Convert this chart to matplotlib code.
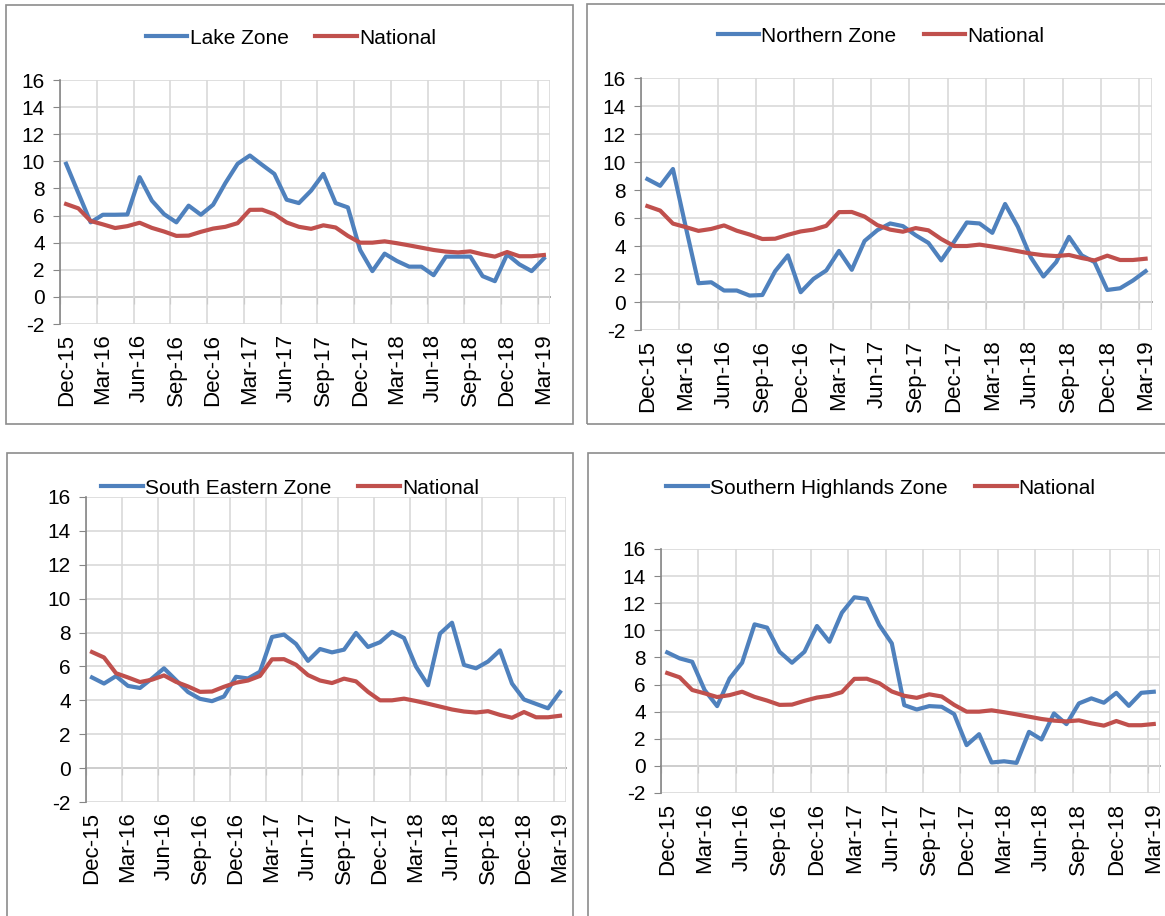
import numpy as np
import pandas as pd
import matplotlib
matplotlib.use("Agg")
import matplotlib.pyplot as plt
from matplotlib.patches import Rectangle
from matplotlib import font_manager

# monthly categories Dec-15 .. Mar-19
months = list(pd.date_range("2015-12-01", periods=40, freq="MS").strftime("%b-%y"))

national = [6.85, 6.53, 5.6, 5.35, 5.08, 5.22, 5.47, 5.09, 4.82, 4.5,
            4.52, 4.8, 5.04, 5.17, 5.44, 6.42, 6.43, 6.1, 5.49, 5.17,
            5.02, 5.28, 5.12, 4.5, 4.0, 4.0, 4.1, 3.96, 3.8, 3.63,
            3.46, 3.34, 3.28, 3.36, 3.14, 2.97, 3.31, 3.0, 3.0, 3.09]

lake = [9.82, 7.65, 5.5, 6.06, 6.06, 6.08, 8.83, 7.1, 6.1, 5.5,
        6.73, 6.06, 6.8, 8.4, 9.82, 10.43, 9.74, 9.07, 7.17, 6.92,
        7.84, 9.07, 6.92, 6.6, 3.46, 1.9, 3.19, 2.65, 2.23, 2.23,
        1.6, 2.97, 2.97, 2.97, 1.53, 1.16, 3.14, 2.4, 1.9, 2.84]

northern = [8.78, 8.3, 9.5, 5.37, 1.34, 1.41, 0.82, 0.82, 0.46, 0.5,
            2.2, 3.33, 0.7, 1.65, 2.25, 3.65, 2.3, 4.36, 5.13, 5.61,
            5.42, 4.77, 4.22, 2.97, 4.29, 5.68, 5.61, 4.94, 7.0, 5.37,
            3.21, 1.82, 2.85, 4.65, 3.33, 2.85, 0.86, 0.98, 1.53, 2.2]

south_eastern = [5.35, 4.99, 5.43, 4.85, 4.73, 5.29, 5.89, 5.19, 4.49, 4.09,
                 3.95, 4.23, 5.39, 5.29, 5.69, 7.74, 7.88, 7.33, 6.33, 7.03,
                 6.83, 6.99, 7.98, 7.15, 7.43, 8.04, 7.68, 5.99, 4.89, 7.94,
                 8.58, 6.09, 5.89, 6.29, 6.95, 4.99, 4.05, 3.79, 3.53, 4.49]

southern_highlands = [8.37, 7.93, 7.68, 5.59, 4.41, 6.45, 7.61, 10.44, 10.2, 8.42,
                      7.61, 8.42, 10.32, 9.16, 11.3, 12.44, 12.32, 10.39, 9.04, 4.48,
                      4.16, 4.41, 4.36, 3.82, 1.53, 2.34, 0.25, 0.34, 0.22, 2.51,
                      1.95, 3.87, 3.08, 4.61, 4.98, 4.66, 5.39, 4.43, 5.39, 5.47]

zone_names = ["Lake Zone", "Northern Zone", "South Eastern Zone", "Southern Highlands Zone"]
zone_values = [lake, northern, south_eastern, southern_highlands]
yticks = list(range(-2, 17, 2))

W, H = 1165, 916
BLUE = "#4F81BD"
RED = "#C0504D"
GRID = "#D9D9D9"
AXIS = "#868686"

names = {f.name for f in font_manager.fontManager.ttflist}
narrow = "Liberation Sans Narrow" if "Liberation Sans Narrow" in names else "Liberation Sans"
plt.rcParams["font.family"] = "Liberation Sans"

# layout in pixels: plot area (left, right, top, bottom), legend centre, box
plot_px = [(60, 550, 80, 324), (641, 1152, 78, 330), (86, 566, 497, 802), (661, 1160, 549, 793)]
legend_px = [(291, 38), (881, 36), (290, 488), (881, 488)]
box_px = [(6, 5, 573, 424), (587, 4, 1175, 424), (7, 453, 573, 930), (588, 453, 1175, 930)]
fonts = ["Liberation Sans", "Liberation Sans", narrow, "Liberation Sans"]

fig = plt.figure(figsize=(W / 100, H / 100), dpi=100)

for (x0, y0, x1, y1) in box_px:
    fig.patches.append(Rectangle((x0 / W, 1 - y1 / H), (x1 - x0) / W, (y1 - y0) / H,
                                 transform=fig.transFigure, fill=False,
                                 edgecolor="#8C8C8C", linewidth=1.2))

x = np.arange(len(months))
for k in range(4):
    l, r, t, b = plot_px[k]
    ax = fig.add_axes([l / W, 1 - b / H, (r - l) / W, (b - t) / H])
    fam = fonts[k]
    ax.plot(x, zone_values[k], color=BLUE, lw=3.0, label=zone_names[k], solid_joinstyle="round")
    ax.plot(x, national, color=RED, lw=3.0, label="National", solid_joinstyle="round")

    ax.set_xlim(-0.5, len(months) - 0.5)
    ax.set_ylim(-2, 16)
    ax.set_yticks(yticks)
    ax.set_yticklabels([str(v) for v in yticks], fontsize=15, family=fam)
    ax.set_xticks(x[::3])
    ax.set_xticklabels(months[::3], rotation=90, fontsize=16, family=fam)
    ax.set_xticks(list(np.arange(-0.5, len(months), 3)) + [len(months) - 0.5], minor=True)
    ax.tick_params(axis="x", which="both", length=0, pad=7)
    ax.tick_params(axis="y", length=5, color=AXIS, pad=6, direction="out")
    ax.grid(axis="y", which="major", color=GRID, lw=1.2)
    ax.grid(axis="x", which="minor", color=GRID, lw=1.2)
    ax.set_axisbelow(True)
    for s in ["top", "right", "bottom"]:
        ax.spines[s].set_visible(False)
    ax.spines["left"].set_color(AXIS)
    ax.spines["left"].set_linewidth(1.2)

    # category axis crossing at zero with its tick marks
    sec = ax.secondary_xaxis(2 / 18)
    sec.set_xticks(list(np.arange(-0.5, len(months), 3)))
    sec.tick_params(length=5, color=AXIS, labelbottom=False, direction="out")
    sec.spines["bottom"].set_color(AXIS)
    sec.spines["bottom"].set_linewidth(1.2)

    lx, ly = legend_px[k]
    ax.legend(loc="center", bbox_to_anchor=(lx / W, 1 - ly / H), bbox_transform=fig.transFigure,
              ncol=2, frameon=False, prop={"family": fam, "size": 15},
              handlelength=2.0, handletextpad=0.1, columnspacing=1.3)

fig.savefig("out.png", dpi=100, facecolor="white")
